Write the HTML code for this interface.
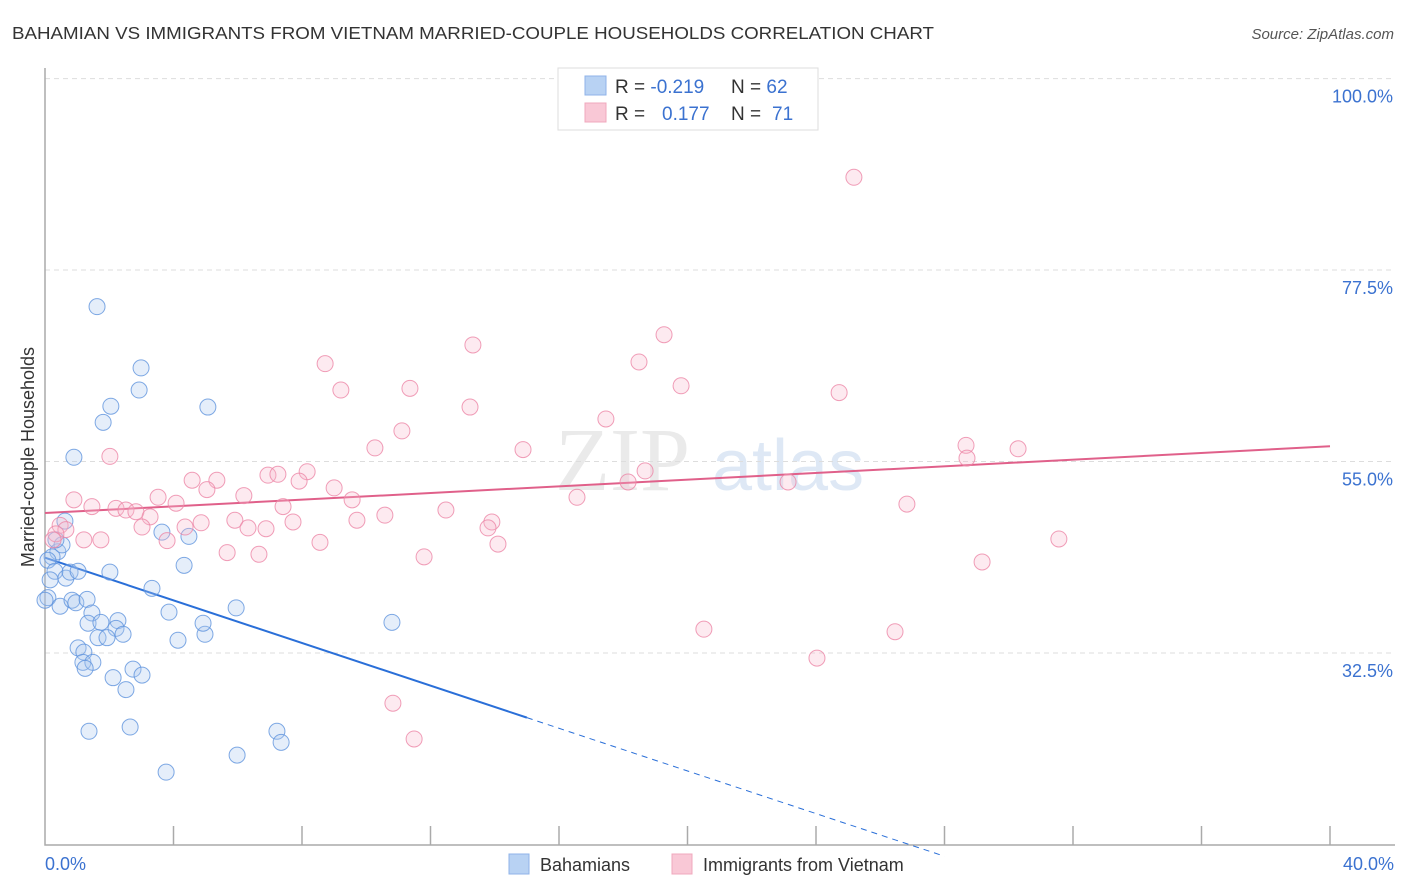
<!DOCTYPE html>
<html><head><meta charset="utf-8">
<style>
body{margin:0;background:#fff;font-family:"Liberation Sans",sans-serif;}
#wrap{position:relative;width:1406px;height:892px;overflow:hidden;}
</style></head>
<body>
<div id="wrap">
<svg id="chart" width="1406" height="892" xmlns="http://www.w3.org/2000/svg">
<text x="12" y="39" font-size="17.5" fill="#333" textLength="922" lengthAdjust="spacingAndGlyphs">BAHAMIAN VS IMMIGRANTS FROM VIETNAM MARRIED-COUPLE HOUSEHOLDS CORRELATION CHART</text>
<text x="1394" y="39" font-size="15" fill="#555" text-anchor="end" font-style="italic">Source: ZipAtlas.com</text>
<text x="34" y="457" font-size="18" fill="#333" text-anchor="middle" transform="rotate(-90 34 457)">Married-couple Households</text>
<text x="555" y="490" font-size="90" fill="#ddd" font-family="Liberation Serif,serif" opacity="0.6">ZIP</text>
<text x="712" y="490" font-size="72" fill="#c9daf0" opacity="0.6">atlas</text>
<g id="grid"></g>
<g id="axes"></g>
<g id="lines"></g>
<g id="pts"></g>
<g>
<rect x="558" y="68" width="260" height="62" fill="#fff" stroke="#ddd"/>
<rect x="585" y="76" width="21" height="19" fill="#b8d2f3" stroke="#8fb3e8"/>
<rect x="585" y="103" width="21" height="19" fill="#f9c8d6" stroke="#f0a8bd"/>
<text x="615" y="93" font-size="19" fill="#333">R = <tspan fill="#3b72d0">-0.219</tspan><tspan x="731">N = </tspan><tspan fill="#3b72d0">62</tspan></text>
<text x="615" y="120" font-size="19" fill="#333">R = <tspan x="662" fill="#3b72d0">0.177</tspan><tspan x="731">N = </tspan><tspan x="772" fill="#3b72d0">71</tspan></text>
</g>
<g>
<rect x="509" y="854" width="20" height="20" fill="#b8d2f3" stroke="#8fb3e8"/>
<text x="540" y="871" font-size="18" fill="#333">Bahamians</text>
<rect x="672" y="854" width="20" height="20" fill="#f9c8d6" stroke="#f0a8bd"/>
<text x="703" y="871" font-size="18" fill="#333">Immigrants from Vietnam</text>
</g>
</svg>
</div>
<script>
const blueX=[1.62,2.99,2.93,2.05,5.07,1.81,0.90,0.62,0.40,0.22,0.09,0.31,0.65,0.78,1.03,2.02,3.33,0.09,0.47,0.84,0.96,1.31,4.33,3.64,4.48,5.95,3.86,1.46,1.34,1.74,2.27,2.21,2.43,1.65,1.93,4.14,4.98,4.92,10.80,1.03,1.21,1.18,1.49,1.25,2.74,3.02,2.12,2.52,1.37,2.65,7.22,7.35,5.98,3.77,0.0,0.16,0.53,0.34];
const blueY=[73.2,66.0,63.4,61.5,61.4,59.6,55.5,48.0,44.4,43.8,43.4,42.1,41.3,42.0,42.1,42.0,40.1,39.0,38.0,38.7,38.4,38.8,42.8,46.7,46.2,37.8,37.3,37.2,36.0,36.1,36.3,35.4,34.7,34.3,34.3,34.0,34.7,36.0,36.1,33.1,32.6,31.4,31.4,30.7,30.6,29.9,29.6,28.2,23.3,23.8,23.3,22.0,20.5,18.5,38.7,41.1,45.2,45.8];
const pinkX=[25.18,19.27,13.32,18.49,8.72,9.21,11.36,19.80,24.72,13.23,11.11,17.46,10.27,14.88,28.67,30.29,28.70,18.68,18.15,2.02,4.58,5.35,6.94,7.25,8.16,7.91,9.00,5.04,6.19,9.56,3.52,4.08,0.90,1.46,2.21,2.52,2.83,3.27,7.41,10.58,12.48,16.56,23.13,26.83,9.71,5.91,6.88,7.72,4.36,4.86,6.32,3.02,0.47,0.65,0.34,0.25,1.21,1.74,3.80,8.56,13.91,13.79,14.10,5.67,6.66,11.80,31.56,29.17,20.51,26.46,24.03,10.83,11.49];
const pinkY=[88.4,69.9,68.7,66.7,66.5,63.4,63.6,63.9,63.1,61.4,58.6,60.0,56.6,56.4,56.9,56.5,55.4,53.9,52.6,55.6,52.8,52.8,53.4,53.5,53.8,52.7,51.9,51.7,51.0,50.5,50.8,50.1,50.5,49.7,49.5,49.3,49.1,48.5,49.7,48.7,49.3,50.8,52.6,50.0,48.1,48.1,47.1,47.9,47.3,47.8,47.2,47.3,47.5,47.0,46.5,45.8,45.8,45.8,45.7,45.5,47.9,47.2,45.3,44.3,44.1,43.8,45.9,43.2,35.3,35.0,31.9,26.6,22.4];
const yTicks=[32.5,55.0,77.5,100.0];
const yTickLabels=["32.5%","55.0%","77.5%","100.0%"];
const xTickVals=[0,4,8,12,16,20,24,28,32,36,40];
const blueFit=[43.7,-1.253];
const pinkFit=[48.95,0.196];
const NS="http://www.w3.org/2000/svg";
const X=v=>45+v*32.125;
const Y=v=>653-(v-32.5)*8.51;
function mk(tag,attrs,parent){const e=document.createElementNS(NS,tag);for(const k in attrs)e.setAttribute(k,attrs[k]);document.getElementById(parent).appendChild(e);return e;}
yTicks.forEach((t,i)=>{
 const g=mk('line',{x1:45,x2:1395,y1:Y(t),y2:Y(t),stroke:'#ddd','stroke-dasharray':'5,4'},'grid');
 
 
 const l=mk('text',{x:1393,y:Y(t)+24,'font-size':18,fill:'#3b72d0','text-anchor':'end'},'axes');
 l.textContent=yTickLabels[i];
 
 
});
const ax=mk('path',{d:'M45 68 V845 H1395',fill:'none',stroke:'#aaa','stroke-width':1.5},'axes');


xTickVals.slice(1).forEach(v=>{
 const t=mk('line',{x1:X(v),x2:X(v),y1:826,y2:845,stroke:'#aaa','stroke-width':1.5},'axes');
 
 
});
const x0=mk('text',{x:45,y:870,'font-size':18,fill:'#3b72d0'},'axes');x0.textContent='0.0%';


const x1=mk('text',{x:1394,y:870,'font-size':18,fill:'#3b72d0','text-anchor':'end'},'axes');x1.textContent='40.0%';


function pts(xs,ys,fill,stroke,name){xs.forEach((x,i)=>{
 const c=mk('circle',{cx:X(x),cy:Y(ys[i]),r:8,fill:fill,'fill-opacity':0.3,stroke:stroke,'stroke-opacity':0.8,'stroke-width':1},'pts');
 
 
});}
pts(blueX,blueY,'#a9c7f0','#5f93dd','bahamian-point');
pts(pinkX,pinkY,'#f7bacd','#ec86a6','vietnam-point');
const bl=mk('line',{x1:X(0),y1:Y(blueFit[0]),x2:X(15),y2:Y(blueFit[0]+blueFit[1]*15),stroke:'#2a6fd8','stroke-width':2},'lines');


const bd=mk('line',{x1:X(15),y1:Y(blueFit[0]+blueFit[1]*15),x2:X(28),y2:Y(blueFit[0]+blueFit[1]*28),stroke:'#2a6fd8','stroke-width':1,'stroke-dasharray':'6,5'},'lines');


const pl=mk('line',{x1:X(0),y1:Y(pinkFit[0]),x2:X(40),y2:Y(pinkFit[0]+pinkFit[1]*40),stroke:'#e0608a','stroke-width':2},'lines');


</script>
</body></html>
